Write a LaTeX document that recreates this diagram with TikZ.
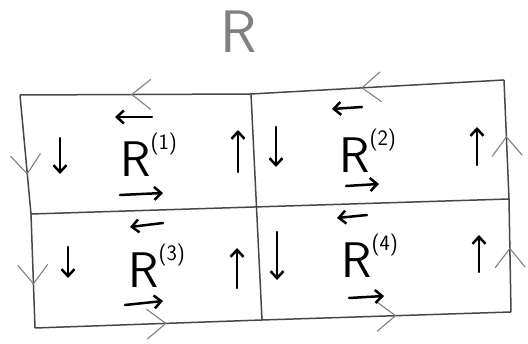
\documentclass[tikz,border=0pt]{standalone}
\usetikzlibrary{arrows.meta,decorations.markings}
\begin{document}
\begin{tikzpicture}[x=1pt,y=-1pt,
  gridline/.style={draw=black!72, line width=1.5pt, line join=round},
  edgemark/.style={postaction={decorate}, decoration={markings,
     mark=at position #1 with {\arrow{Straight Barb[length=19pt,width=30pt,line width=1.1pt,color=black!50]}}}},
  inarrow/.style={-{Straight Barb[length=7pt,width=13pt]}, line width=2.5pt, line cap=round},
  rlabel/.style={inner sep=0pt, anchor=base west, font=\sffamily}
]
\useasboundingbox (0,0) rectangle (528,344);
% corners and midpoints of the grid
\coordinate (TL) at (20,95);
\coordinate (TR) at (504,80);
\coordinate (BR) at (511,312);
\coordinate (BL) at (35,328);
\coordinate (MT) at (251,94);
\coordinate (MB) at (262,320);
\coordinate (ML) at (31,214);
\coordinate (MR) at (509,199);
% outer boundary with orientation marks
\draw[gridline, edgemark=0.565] (TR) -- (MT);
\draw[gridline, edgemark=0.52] (MT) -- (TL);
\draw[gridline, edgemark=0.67] (TL) -- (ML);
\draw[gridline, edgemark=0.62] (ML) -- (BL);
\draw[gridline, edgemark=0.58] (BL) -- (MB);
\draw[gridline, edgemark=0.54] (MB) -- (BR);
\draw[gridline, edgemark=0.57] (BR) -- (MR);
\draw[gridline, edgemark=0.53] (MR) -- (TR);
% inner lines
\draw[gridline] (MT) -- (MB);
\draw[gridline] (ML) -- (MR);
% title
\node[rlabel, text=black!50] (title) at (220,53) {\fontsize{60}{60}\selectfont R};
% labels
\node[rlabel] (r1) at (120,177) {\fontsize{50}{50}\selectfont R\raisebox{27pt}{\fontsize{22}{22}\selectfont (1)}};
\node[rlabel] (r2) at (339,173) {\fontsize{50}{50}\selectfont R\raisebox{27pt}{\fontsize{22}{22}\selectfont (2)}};
\node[rlabel] (r3) at (128,288) {\fontsize{50}{50}\selectfont R\raisebox{27pt}{\fontsize{22}{22}\selectfont (3)}};
\node[rlabel] (r4) at (341,278) {\fontsize{50}{50}\selectfont R\raisebox{27pt}{\fontsize{22}{22}\selectfont (4)}};
% region 1 arrows
\coordinate (a1ls) at (152,117); \coordinate (a1le) at (115,117);
\coordinate (a1ds) at (60,138);  \coordinate (a1de) at (60,174);
\coordinate (a1us) at (238,172); \coordinate (a1ue) at (238,130);
\coordinate (a1rs) at (120,195); \coordinate (a1re) at (163,193);
\draw[inarrow] (a1ls) -- (a1le);
\draw[inarrow] (a1ds) -- (a1de);
\draw[inarrow] (a1us) -- (a1ue);
\draw[inarrow] (a1rs) -- (a1re);
% region 2 arrows
\coordinate (a2ls) at (362,107); \coordinate (a2le) at (332,109);
\coordinate (a2ds) at (276,127); \coordinate (a2de) at (276,167);
\coordinate (a2us) at (477,165); \coordinate (a2ue) at (477,127);
\coordinate (a2rs) at (346,186); \coordinate (a2re) at (379,184);
\draw[inarrow] (a2ls) -- (a2le);
\draw[inarrow] (a2ds) -- (a2de);
\draw[inarrow] (a2us) -- (a2ue);
\draw[inarrow] (a2rs) -- (a2re);
% region 3 arrows
\coordinate (a3ls) at (163,223); \coordinate (a3le) at (130,227);
\coordinate (a3ds) at (68,247);  \coordinate (a3de) at (68,278);
\coordinate (a3us) at (237,288); \coordinate (a3ue) at (237,248);
\coordinate (a3rs) at (125,305); \coordinate (a3re) at (163,301);
\draw[inarrow] (a3ls) -- (a3le);
\draw[inarrow] (a3ds) -- (a3de);
\draw[inarrow] (a3us) -- (a3ue);
\draw[inarrow] (a3rs) -- (a3re);
% region 4 arrows
\coordinate (a4ls) at (367,215); \coordinate (a4le) at (337,218);
\coordinate (a4ds) at (277,232); \coordinate (a4de) at (277,280);
\coordinate (a4us) at (479,272); \coordinate (a4ue) at (479,235);
\coordinate (a4rs) at (349,298); \coordinate (a4re) at (384,296);
\draw[inarrow] (a4ls) -- (a4le);
\draw[inarrow] (a4ds) -- (a4de);
\draw[inarrow] (a4us) -- (a4ue);
\draw[inarrow] (a4rs) -- (a4re);
\end{tikzpicture}
\end{document}
